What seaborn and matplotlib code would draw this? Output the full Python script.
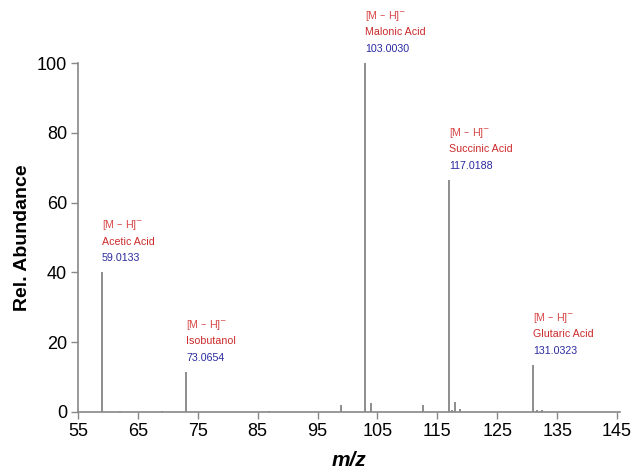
import matplotlib
matplotlib.use("Agg")
import matplotlib.pyplot as plt
import seaborn as sns
import pandas as pd

# Main labelled peaks
peak_mz = [59.0133, 73.0654, 103.0030, 117.0188, 131.0323]
peak_abund = [40.0, 11.5, 100.0, 66.5, 13.5]
peak_names = ["Acetic Acid", "Isobutanol", "Malonic Acid", "Succinic Acid", "Glutaric Acid"]
peak_mz_text = ["59.0133", "73.0654", "103.0030", "117.0188", "131.0323"]

# Minor peaks
minor_mz = [62.0, 69.1, 86.9, 98.9, 103.9, 112.6, 117.4, 117.9, 118.8, 131.7, 132.5]
minor_abund = [0.3, 0.3, 0.3, 2.0, 2.6, 2.0, 0.6, 2.8, 0.8, 0.5, 0.5]

x_ticks = [55, 65, 75, 85, 95, 105, 115, 125, 135, 145]
y_ticks = [0, 20, 40, 60, 80, 100]

sns.set_style("ticks")
plt.rcParams['font.family'] = ['Liberation Sans', 'DejaVu Sans']
plt.rcParams['text.color'] = 'black'
plt.rcParams['axes.labelcolor'] = 'black'
plt.rcParams['xtick.labelcolor'] = 'black'
plt.rcParams['ytick.labelcolor'] = 'black'

df = pd.DataFrame({"mz": peak_mz + minor_mz, "abund": peak_abund + minor_abund})

fig = plt.figure(figsize=(6.31, 4.71), dpi=100)
ax = fig.add_axes([0.1236, 0.1253, 0.8590, 0.7409])

ax.vlines(df["mz"], 0, df["abund"], color="#7a7a7a", linewidth=1.2)

ax.set_xlim(55, 145.5)
ax.set_ylim(0, 100)
ax.set_xticks(x_ticks)
ax.set_yticks(y_ticks)
ax.tick_params(axis="both", labelsize=13, color="#888888", labelcolor="black",
               length=5, width=1.0, pad=3)
for s in ["left", "bottom"]:
    ax.spines[s].set_color("#888888")
    ax.spines[s].set_linewidth(1.2)
sns.despine(ax=ax)

ax.set_ylabel("Rel. Abundance", fontsize=14, fontweight="bold", labelpad=4, color="black")
ax.set_xlabel("m/z", fontsize=15, fontweight="bold", style="italic", labelpad=8, color="black")

red = "#cc2a2a"
blue = "#2a2aa0"
for mz, ab, name, txt in zip(peak_mz, peak_abund, peak_names, peak_mz_text):
    ax.annotate(txt, xy=(mz, ab), xytext=(0, 6.5), textcoords="offset points",
                color=blue, fontsize=7.7, ha="left", va="bottom", annotation_clip=False)
    ax.annotate(name, xy=(mz, ab), xytext=(0, 18.5), textcoords="offset points",
                color=red, fontsize=7.7, ha="left", va="bottom", annotation_clip=False)
    ax.annotate("[M – H]$^{-}$", xy=(mz, ab), xytext=(0, 29), textcoords="offset points",
                color="#d84848", fontsize=7.7, ha="left", va="bottom", annotation_clip=False)

fig.savefig("out.png", dpi=100)
